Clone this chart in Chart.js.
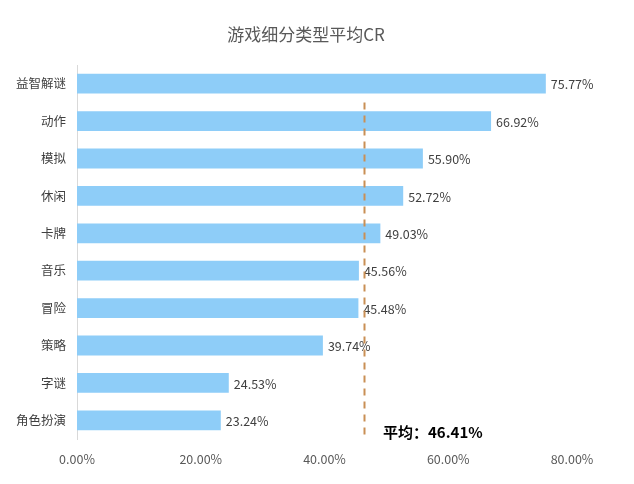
<!DOCTYPE html>
<html><head><meta charset="utf-8">
<script src="https://cdn.jsdelivr.net/npm/chart.js@4"></script>
<style>html,body{margin:0;padding:0;background:#fff}#wrap{width:634px;height:484px}</style>
</head><body><div id="wrap"><canvas id="c" width="634" height="484"></canvas></div>
<script>
const categories = ["益智解谜","动作","模拟","休闲","卡牌","音乐","冒险","策略","字谜","角色扮演"];
const values = [75.77,66.92,55.90,52.72,49.03,45.56,45.48,39.74,24.53,23.24];
const averageValue = 46.41;
const averageLabel = "平均：46.41%";
const xTicks = [0,20,40,60,80];
const title = "游戏细分类型平均CR";
const FONT = "'Noto Sans CJK SC','Noto Sans',sans-serif";

const extras = {
  id:'extras',
  afterDatasetsDraw(chart){
    const ctx = chart.ctx, x = chart.scales.x, y = chart.scales.y;
    const meta = chart.getDatasetMeta(0);
    ctx.save();
    // title
    ctx.font = "17px " + FONT;
    ctx.fillStyle = "#595959";
    ctx.textAlign = "center";
    ctx.textBaseline = "middle";
    ctx.fillText(title, 306, 35);
    ctx.font = "12.5px " + FONT;
    ctx.fillStyle = "#404040";
    ctx.textBaseline = "middle";
    ctx.textAlign = "left";
    meta.data.forEach((bar,i)=>{
      ctx.fillText(values[i].toFixed(2)+"%", bar.x+5, bar.y+1);
    });
    // average line
    const ax = Math.round(x.getPixelForValue(averageValue))+0.5;
    const y0 = (y.getPixelForValue(0)+y.getPixelForValue(1))/2;
    ctx.strokeStyle = "#C98F55";
    ctx.lineWidth = 2;
    ctx.setLineDash([7,6]);
    ctx.beginPath();
    ctx.moveTo(ax, y0);
    ctx.lineTo(ax, chart.chartArea.bottom);
    ctx.stroke();
    ctx.setLineDash([]);
    ctx.font = "bold 15px " + FONT;
    ctx.fillStyle = "#000";
    ctx.fillText(averageLabel, 383, 432);
    ctx.restore();
  }
};

new Chart(document.getElementById('c'), {
  type:'bar',
  data:{labels:categories,datasets:[{data:values,backgroundColor:"#8ECDF8",barPercentage:0.53,categoryPercentage:1}]},
  options:{
    indexAxis:'y',
    responsive:false,animation:false,
    layout:{padding:{left:0,right:62,top:65,bottom:0}},
    plugins:{
      legend:{display:false},tooltip:{enabled:false},
      title:{display:false}
    },
    scales:{
      x:{min:0,max:80,
        afterBuildTicks(s){s.ticks = xTicks.map(v=>({value:v}));},
        afterFit(s){s.height=45;},
        grid:{display:false,drawTicks:false},border:{display:false},
        ticks:{padding:13,color:"#595959",font:{family:FONT,size:12.5},callback:v=>v.toFixed(2)+"%",maxRotation:0}
      },
      y:{
        afterFit(s){s.width=77;},
        grid:{display:false,drawTicks:false},
        border:{display:true,color:"#D9D9D9",width:1},
        ticks:{padding:11,color:"#404040",font:{family:FONT,size:12.5}}
      }
    }
  },
  plugins:[extras]
});
</script></body></html>
